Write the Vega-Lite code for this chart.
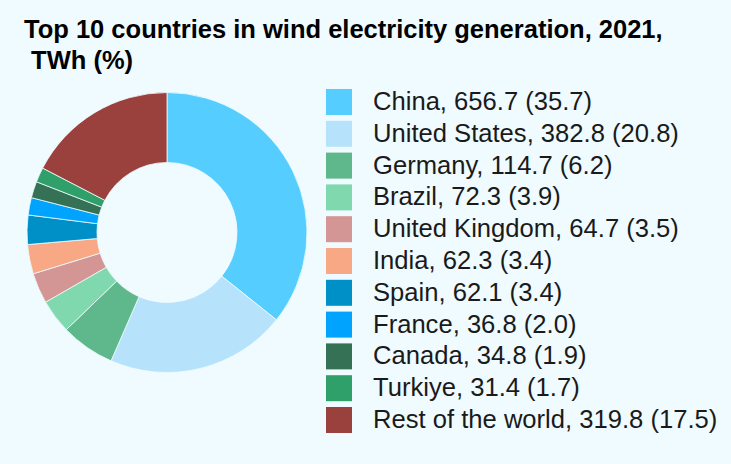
{
  "$schema": "https://vega.github.io/schema/vega-lite/v6.json",
  "background": "#effbff",
  "padding": {"left": 24, "top": 17, "right": 60, "bottom": 60},
  "width": 286,
  "height": 287,
  "title": {
    "text": ["Top 10 countries in wind electricity generation, 2021,", "\u200b\u00a0TWh (%)"],
    "anchor": "start",
    "frame": "group",
    "font": "Liberation Sans",
    "fontSize": 25.5,
    "fontWeight": "bold",
    "color": "#000000",
    "lineHeight": 31.7,
    "offset": 14
  },
  "data": {
    "values": [
      {"i": 1, "country": "China", "twh": 656.7, "pct": 35.7, "label": "China, 656.7 (35.7)"},
      {"i": 2, "country": "United States", "twh": 382.8, "pct": 20.8, "label": "United States, 382.8 (20.8)"},
      {"i": 3, "country": "Germany", "twh": 114.7, "pct": 6.2, "label": "Germany, 114.7 (6.2)"},
      {"i": 4, "country": "Brazil", "twh": 72.3, "pct": 3.9, "label": "Brazil, 72.3 (3.9)"},
      {"i": 5, "country": "United Kingdom", "twh": 64.7, "pct": 3.5, "label": "United Kingdom, 64.7 (3.5)"},
      {"i": 6, "country": "India", "twh": 62.3, "pct": 3.4, "label": "India, 62.3 (3.4)"},
      {"i": 7, "country": "Spain", "twh": 62.1, "pct": 3.4, "label": "Spain, 62.1 (3.4)"},
      {"i": 8, "country": "France", "twh": 36.8, "pct": 2.0, "label": "France, 36.8 (2.0)"},
      {"i": 9, "country": "Canada", "twh": 34.8, "pct": 1.9, "label": "Canada, 34.8 (1.9)"},
      {"i": 10, "country": "Turkiye", "twh": 31.4, "pct": 1.7, "label": "Turkiye, 31.4 (1.7)"},
      {"i": 11, "country": "Rest of the world", "twh": 319.8, "pct": 17.5, "label": "Rest of the world, 319.8 (17.5)"}
    ]
  },
  "mark": {"type": "arc", "outerRadius": 140, "innerRadius": 70, "stroke": "#effbff", "strokeWidth": 0.8},
  "encoding": {
    "theta": {"field": "twh", "type": "quantitative", "stack": true},
    "order": {"field": "i", "type": "quantitative"},
    "color": {
      "field": "label",
      "type": "nominal",
      "sort": {"field": "i"},
      "scale": {
        "domain": ["China, 656.7 (35.7)", "United States, 382.8 (20.8)", "Germany, 114.7 (6.2)", "Brazil, 72.3 (3.9)", "United Kingdom, 64.7 (3.5)", "India, 62.3 (3.4)", "Spain, 62.1 (3.4)", "France, 36.8 (2.0)", "Canada, 34.8 (1.9)", "Turkiye, 31.4 (1.7)", "Rest of the world, 319.8 (17.5)"],
        "range": ["#55cdfe", "#b6e3fb", "#5fb88b", "#80d9ae", "#d49595", "#f9a886", "#0090c8", "#00a4ff", "#357255", "#30a06a", "#9a403d"]
      },
      "legend": {
        "title": null,
        "orient": "right",
        "offset": 16,
        "symbolType": "square",
        "symbolSize": 676,
        "symbolStrokeWidth": 0,
        "labelFont": "Liberation Sans",
        "labelFontSize": 25.6,
        "labelColor": "#1a1a1a",
        "labelOffset": 21,
        "labelLimit": 420,
        "rowPadding": 4.8,
        "padding": 0
      }
    }
  },
  "config": {"view": {"stroke": null}}
}
